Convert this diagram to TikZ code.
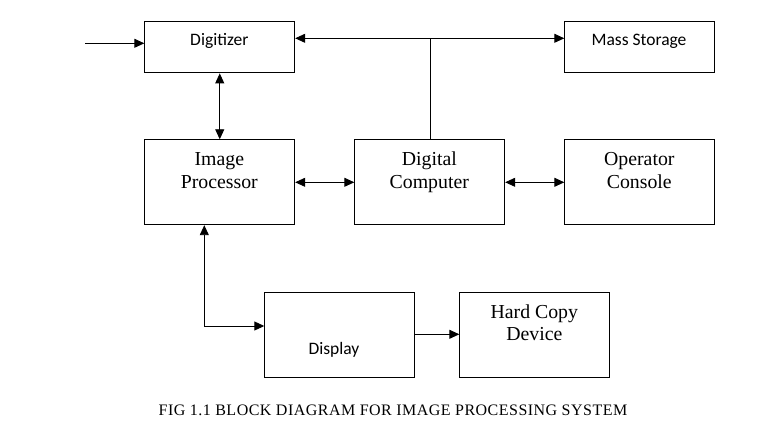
\documentclass[tikz,border=0pt]{standalone}
\usepackage{fontspec}
\setmainfont{Liberation Serif}
\newfontfamily\calib{Carlito}
\newfontfamily\capfont[LetterSpace=3]{Liberation Serif}
\usetikzlibrary{arrows.meta}
\begin{document}
\begin{tikzpicture}[x=1pt,y=-1pt,
  box/.style={draw, line width=0.9pt, minimum width=150pt, anchor=north west, inner sep=0pt},
  tbox/.style={box, minimum height=51pt},
  bbox/.style={box, minimum height=85pt},
  serif/.style={anchor=base, inner sep=0pt, font=\fontsize{19.8}{22}\selectfont},
  sans/.style={anchor=base, inner sep=0pt, font=\calib\fontsize{17.5}{20}\selectfont},
  conn/.style={line width=0.9pt},
  arr/.style={conn, -{Triangle[length=10pt,width=9pt]}},
  arrb/.style={conn, {Triangle[length=10pt,width=9pt]}-{Triangle[length=10pt,width=9pt]}}
]
\useasboundingbox (0,0) rectangle (759,427);
% boxes
\node[tbox] (dig) at (144.3,21.5) {};
\node[tbox] (ms)  at (564.3,21.5) {};
\node[bbox] (ip)  at (144.3,139.3) {};
\node[bbox] (dc)  at (354.3,139.3) {};
\node[bbox] (oc)  at (564.3,139.3) {};
\node[bbox] (disp) at (264.3,292.3) {};
\node[bbox] (hc)  at (459.3,292.3) {};
% texts
\node[sans] (digt) at (219.3,46) {Digitizer};
\node[sans] (mst) at (639,46) {Mass Storage};
\node[serif] (ipt1) at (219.3,166) {Image};
\node[serif] (ipt2) at (219.3,188.3) {Processor};
\node[serif] (dct1) at (429.3,166) {Digital};
\node[serif] (dct2) at (429.3,188.3) {Computer};
\node[serif] (oct1) at (639.3,166) {Operator};
\node[serif] (oct2) at (639.3,188.3) {Console};
\node[sans] (dispt) at (334,354) {Display};
\node[serif] (hct1) at (534.3,318) {Hard Copy};
\node[serif] (hct2) at (534.3,340.5) {Device};
\node[anchor=base, inner sep=0pt, font=\capfont\fontsize{16}{18}\selectfont] (cap) at (393,415) {FIG 1.1 BLOCK DIAGRAM FOR IMAGE PROCESSING SYSTEM};
% coordinates
\coordinate (in) at (85,43.3);
\coordinate (bus) at (430,38.3);
\coordinate (r2) at (0,182.3);
\coordinate (bend) at (204.3,326);
\coordinate (r3) at (0,334.3);
% connectors
\draw[arr] (in) -- (in -| dig.west);
\draw[arrb] (bus -| dig.east) -- (bus -| ms.west);
\draw[conn] (bus) -- (bus |- dc.north);
\draw[arrb] (dig.south) -- (ip.north);
\draw[arrb] (ip.east |- r2) -- (dc.west |- r2);
\draw[arrb] (dc.east |- r2) -- (oc.west |- r2);
\draw[arrb] (bend |- ip.south) -- (bend) -- (bend -| disp.west);
\draw[arr] (disp.east |- r3) -- (hc.west |- r3);
\end{tikzpicture}
\end{document}
